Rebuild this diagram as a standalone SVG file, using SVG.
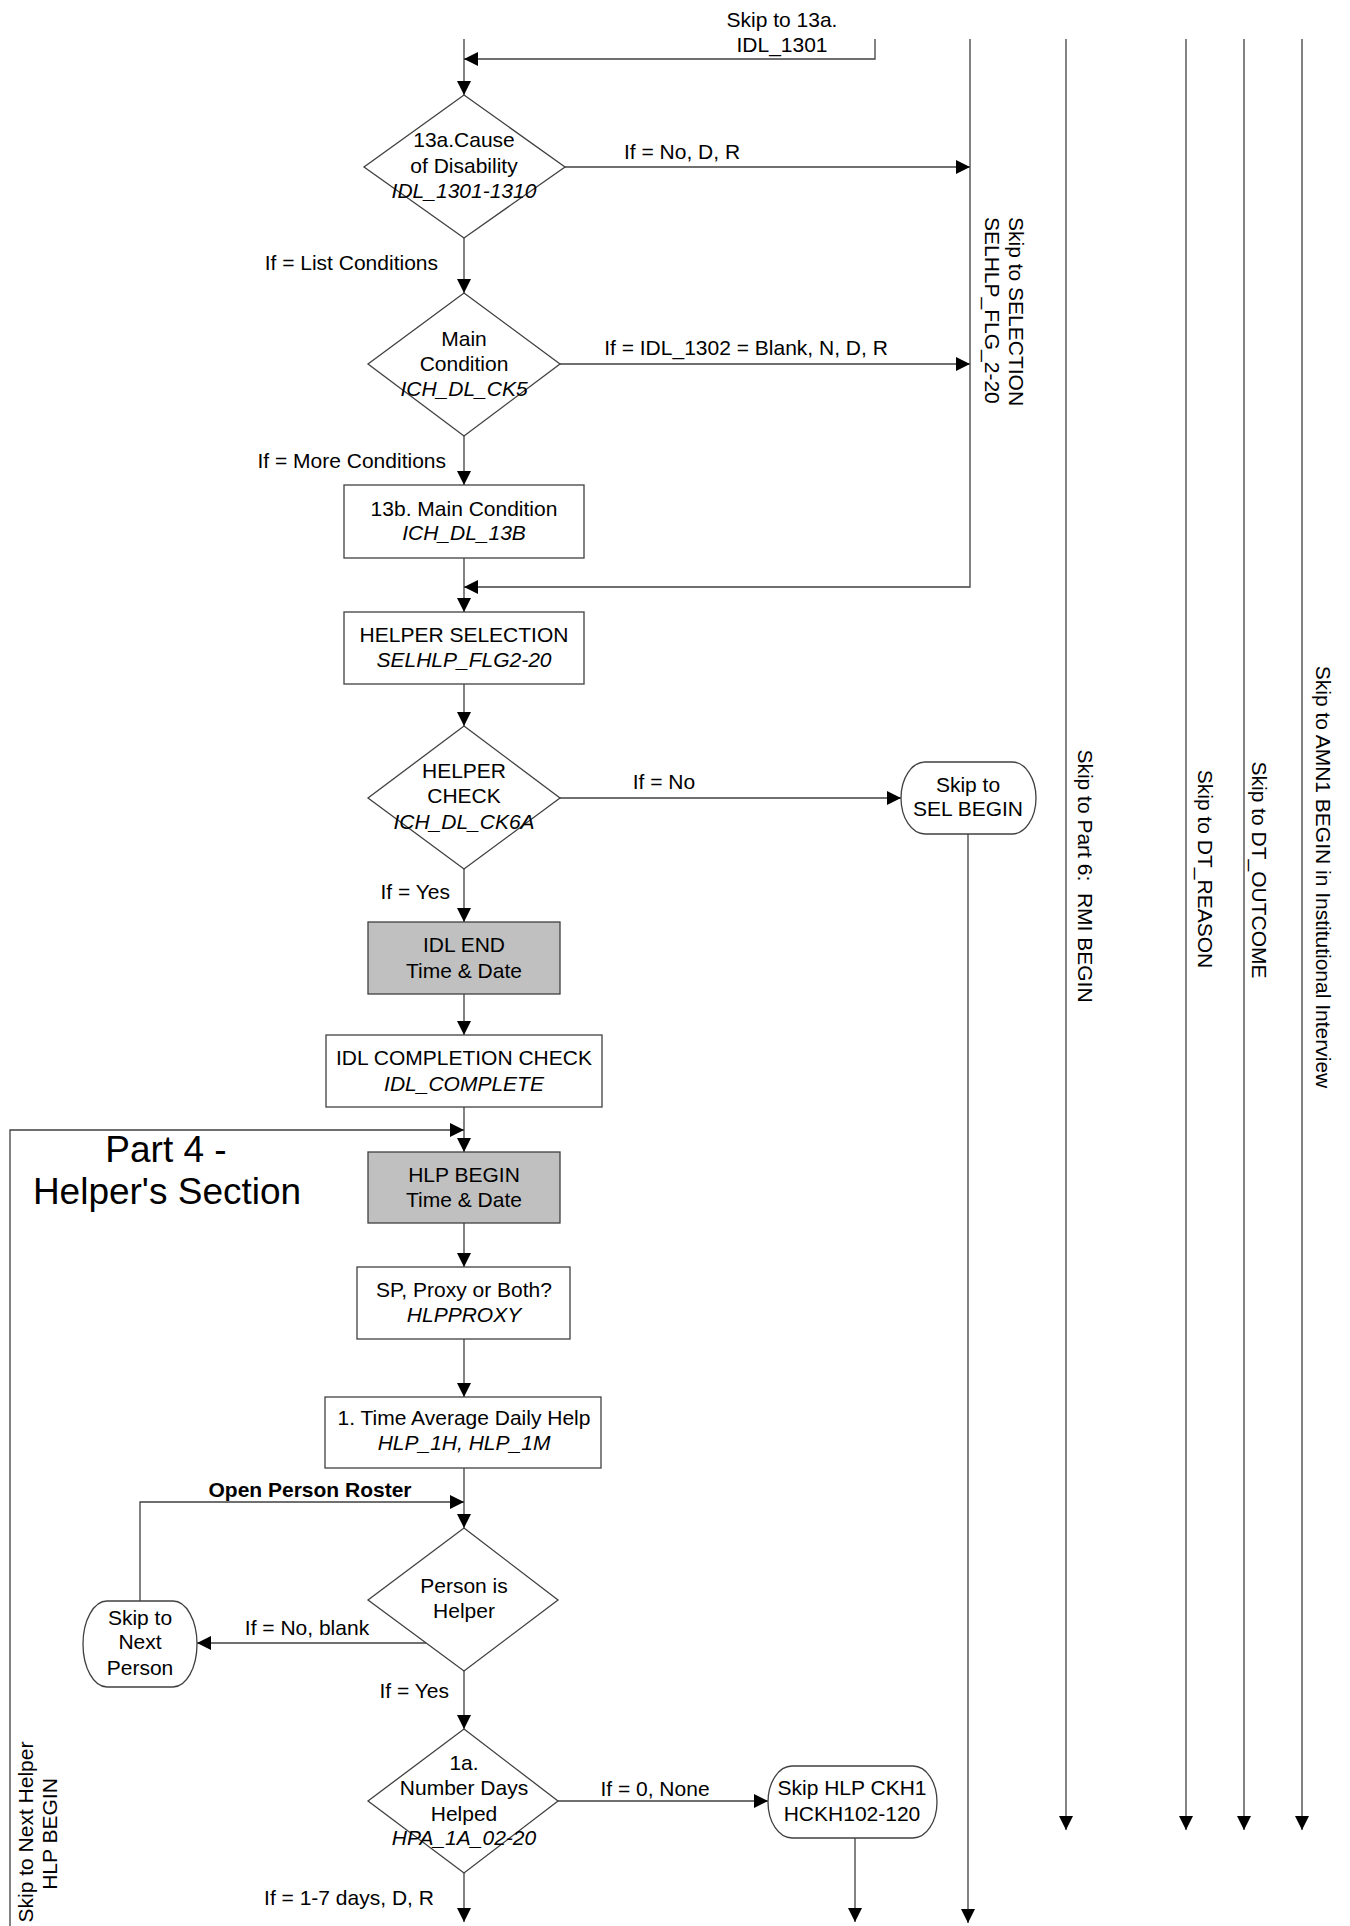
<svg xmlns="http://www.w3.org/2000/svg" width="1350" height="1926" viewBox="0 0 1350 1926">
<defs>
<marker id="arr" markerUnits="userSpaceOnUse" markerWidth="14" markerHeight="14" refX="14" refY="7" orient="auto">
<path d="M0,0 L14,7 L0,14 z" fill="#000"/>
</marker>
<style>
text{font-family:"Liberation Sans",Arial,sans-serif;font-size:21px;fill:#000}
.c{text-anchor:middle}
.e{text-anchor:end}
.i{font-style:italic}
.b{font-weight:bold}
.big{font-size:37px}
.box{fill:#fff;stroke:#404040;stroke-width:1.3}
.gray{fill:#c0c0c0;stroke:#404040;stroke-width:1.3}
.ln{fill:none;stroke:#404040;stroke-width:1.3}
.ar{fill:none;stroke:#404040;stroke-width:1.3;marker-end:url(#arr)}
</style>
</defs>
<rect width="1350" height="1926" fill="#fff"/>

<g id="connectors">
<path class="ar" d="M464,39 V95"/>
<path class="ar" d="M875,39 V59 H464"/>
<path class="ar" d="M565,167 H970"/>
<path class="ar" d="M464,238 V293"/>
<path class="ar" d="M560,364 H970"/>
<path class="ar" d="M464,436 V485"/>
<path class="ar" d="M464,558 V612"/>
<path class="ar" d="M970,39 V587 H464"/>
<path class="ar" d="M464,684 V726"/>
<path class="ar" d="M560,798 H901"/>
<path class="ar" d="M968,834 V1923"/>
<path class="ar" d="M464,869 V922"/>
<path class="ar" d="M464,994 V1035"/>
<path class="ar" d="M464,1107 V1152"/>
<path class="ar" d="M10,1926 V1130 H464"/>
<path class="ar" d="M464,1223 V1267"/>
<path class="ar" d="M464,1339 V1397"/>
<path class="ar" d="M464,1468 V1528"/>
<path class="ar" d="M140,1601 V1502 H464"/>
<path class="ar" d="M426,1643 H197"/>
<path class="ar" d="M464,1671 V1729"/>
<path class="ar" d="M558,1801 H768"/>
<path class="ar" d="M464,1873 V1922"/>
<path class="ar" d="M855,1838 V1922"/>
<path class="ar" d="M1066,39 V1830"/>
<path class="ar" d="M1186,39 V1830"/>
<path class="ar" d="M1244,39 V1830"/>
<path class="ar" d="M1302,39 V1830"/>
</g>

<g id="labels">
<text class="c" x="782" y="27">Skip to 13a.</text>
<text class="c" x="782" y="52">IDL_1301</text>
<text class="c" x="682" y="159">If = No, D, R</text>
<text class="e" x="438" y="270">If = List Conditions</text>
<text class="c" x="746" y="355">If = IDL_1302 = Blank, N, D, R</text>
<text class="e" x="446" y="468">If = More Conditions</text>
<text class="c" x="664" y="789">If = No</text>
<text class="e" x="450" y="899">If = Yes</text>
<text class="c b" x="310" y="1497">Open Person Roster</text>
<text class="c" x="307" y="1635">If = No, blank</text>
<text class="e" x="449" y="1698">If = Yes</text>
<text class="c" x="655" y="1796">If = 0, None</text>
<text class="c" x="349" y="1905">If = 1-7 days, D, R</text>
<text class="c big" x="166" y="1162">Part 4 -</text>
<text class="c big" x="167" y="1204">Helper's Section</text>
<text transform="translate(1009,217) rotate(90)">Skip to SELECTION</text>
<text transform="translate(985,217) rotate(90)">SELHLP_FLG_2-20</text>
<text class="c" xml:space="preserve" transform="translate(1078,876) rotate(90)">Skip to Part 6:  RMI BEGIN</text>
<text class="c" transform="translate(1198,869) rotate(90)">Skip to DT_REASON</text>
<text class="c" transform="translate(1252,870) rotate(90)">Skip to DT_OUTCOME</text>
<text class="c" transform="translate(1316,877) rotate(90)">Skip to AMN1 BEGIN in Institutional Interview</text>
<text class="c" transform="translate(33,1832) rotate(-90)">Skip to Next Helper</text>
<text class="c" transform="translate(57,1834) rotate(-90)">HLP BEGIN</text>
</g>

<g id="d1">
<polygon class="box" points="464,95 565,167 464,238 364,167"/>
<text class="c" x="464" y="147">13a.Cause</text>
<text class="c" x="464" y="173">of Disability</text>
<text class="c i" x="464" y="198">IDL_1301-1310</text>
</g>
<g id="d2">
<polygon class="box" points="464,293 560,364 464,436 368,364"/>
<text class="c" x="464" y="346">Main</text>
<text class="c" x="464" y="371">Condition</text>
<text class="c i" x="464" y="396">ICH_DL_CK5</text>
</g>
<g id="n13b">
<rect class="box" x="344" y="485" width="240" height="73"/>
<text class="c" x="464" y="516">13b. Main Condition</text>
<text class="c i" x="464" y="540">ICH_DL_13B</text>
</g>
<g id="helpersel">
<rect class="box" x="344" y="612" width="240" height="72"/>
<text class="c" x="464" y="642">HELPER SELECTION</text>
<text class="c i" x="464" y="667">SELHLP_FLG2-20</text>
</g>
<g id="d3">
<polygon class="box" points="464,726 560,798 464,869 368,798"/>
<text class="c" x="464" y="778">HELPER</text>
<text class="c" x="464" y="803">CHECK</text>
<text class="c i" x="464" y="829">ICH_DL_CK6A</text>
</g>
<g id="selbegin">
<rect class="box" x="901" y="762" width="135" height="72" rx="24" ry="36"/>
<text class="c" x="968" y="792">Skip to</text>
<text class="c" x="968" y="816">SEL BEGIN</text>
</g>
<g id="idlend">
<rect class="gray" x="368" y="922" width="192" height="72"/>
<text class="c" x="464" y="952">IDL END</text>
<text class="c" x="464" y="978">Time &amp; Date</text>
</g>
<g id="idlcomp">
<rect class="box" x="326" y="1035" width="276" height="72"/>
<text class="c" x="464" y="1065">IDL COMPLETION CHECK</text>
<text class="c i" x="464" y="1091">IDL_COMPLETE</text>
</g>
<g id="hlpbegin">
<rect class="gray" x="368" y="1152" width="192" height="71"/>
<text class="c" x="464" y="1182">HLP BEGIN</text>
<text class="c" x="464" y="1207">Time &amp; Date</text>
</g>
<g id="hlpproxy">
<rect class="box" x="357" y="1267" width="213" height="72"/>
<text class="c" x="464" y="1297">SP, Proxy or Both?</text>
<text class="c i" x="464" y="1322">HLPPROXY</text>
</g>
<g id="timeavg">
<rect class="box" x="325" y="1397" width="276" height="71"/>
<text class="c" x="464" y="1425">1. Time Average Daily Help</text>
<text class="c i" x="464" y="1450">HLP_1H, HLP_1M</text>
</g>
<g id="d4">
<polygon class="box" points="464,1528 558,1600 464,1671 368,1600"/>
<text class="c" x="464" y="1593">Person is</text>
<text class="c" x="464" y="1618">Helper</text>
</g>
<g id="nextperson">
<rect class="box" x="83" y="1601" width="114" height="86" rx="24" ry="43"/>
<text class="c" x="140" y="1625">Skip to</text>
<text class="c" x="140" y="1649">Next</text>
<text class="c" x="140" y="1675">Person</text>
</g>
<g id="d5">
<polygon class="box" points="464,1729 558,1801 464,1873 368,1801"/>
<text class="c" x="464" y="1770">1a.</text>
<text class="c" x="464" y="1795">Number Days</text>
<text class="c" x="464" y="1821">Helped</text>
<text class="c i" x="464" y="1845">HPA_1A_02-20</text>
</g>
<g id="ckh1">
<rect class="box" x="768" y="1766" width="169" height="72" rx="24" ry="36"/>
<text class="c" x="852" y="1795">Skip HLP CKH1</text>
<text class="c" x="852" y="1821">HCKH102-120</text>
</g>
</svg>
